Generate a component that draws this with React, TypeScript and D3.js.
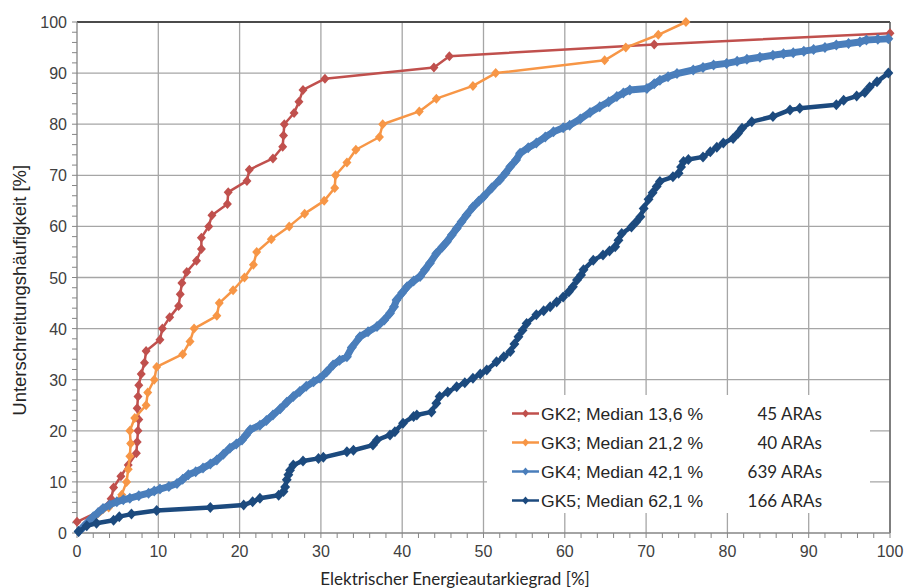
import React, { useEffect, useRef } from "react";
import * as d3 from "d3";

// Werte: [Energieautarkiegrad %, Unterschreitungshäufigkeit %]
const gk2: [number, number][] = [
  [0, 2.2], [2.9, 4.4], [4.2, 6.7], [4.5, 8.9], [5.4, 11.1], [6.3, 13.3], [7.3, 15.6], [7.4, 17.8],
  [7.5, 20], [7.6, 22.2], [7.4, 24.4], [7.5, 26.7], [7.6, 28.9], [7.9, 31.1], [8.3, 33.3], [8.5, 35.6],
  [10.2, 37.8], [10.5, 40], [11.4, 42.2], [12.5, 44.4], [12.7, 46.7], [12.9, 48.9], [13.5, 51.1],
  [14.7, 53.3], [15.3, 55.6], [15.3, 57.8], [16.2, 60], [16.6, 62.2], [18.5, 64.4], [18.6, 66.7],
  [20.9, 68.9], [21.2, 71.1], [24.1, 73.3], [25.3, 75.6], [25.4, 77.8], [25.5, 80], [26.7, 82.2],
  [27.3, 84.4], [27.8, 86.7], [30.5, 88.9], [43.9, 91.1], [45.8, 93.3], [71, 95.6], [100, 97.8],
];

const gk3: [number, number][] = [
  [2.0, 2.5], [3.9, 5], [5.5, 7.5], [6.1, 10], [6.3, 12.5], [6.5, 15], [6.6, 17.5], [6.5, 20],
  [7.1, 22.5], [8.5, 25], [8.7, 27.5], [9.5, 30], [9.8, 32.5], [13, 35], [13.9, 37.5], [14.4, 40],
  [17.2, 42.5], [17.5, 45], [19.2, 47.5], [20.6, 50], [21.7, 52.5], [22.1, 55], [23.9, 57.5],
  [26.1, 60], [28, 62.5], [30.4, 65], [31.7, 67.5], [31.8, 70], [33.2, 72.5], [34.3, 75],
  [37.2, 77.5], [37.6, 80], [42.1, 82.5], [44.2, 85], [48.7, 87.5], [51.5, 90], [64.9, 92.5],
  [67.5, 95], [71.5, 97.5], [74.9, 100],
];

const gk4: [number, number][] = [
  [0.2, 0.3], [0.8, 1.2], [1.4, 2.2], [2.0, 3.2], [2.6, 4.0], [3.2, 4.8], [4.0, 5.5], [4.9, 6.1],
  [5.7, 6.5], [6.5, 6.8], [7.6, 7.3], [8.8, 7.8], [9.5, 8.2], [10.2, 8.6], [11.3, 9.1], [12.3, 9.7],
  [13.0, 10.5], [13.7, 11.4], [14.6, 12.0], [15.5, 12.7], [16.4, 13.5], [17.2, 14.3], [18.0, 15.4],
  [18.8, 16.6], [19.6, 17.4], [20.3, 18.2], [20.8, 19.2], [21.3, 20.2], [22.5, 21.1], [23.3, 22.0],
  [24.1, 23.1], [25.0, 24.3], [25.8, 25.6], [26.6, 26.7], [27.4, 27.7], [28.2, 28.7], [29.1, 29.6],
  [29.9, 30.3], [30.7, 31.5], [31.5, 32.9], [32.3, 33.8], [33.2, 34.5], [33.8, 36.3], [34.8, 38.4],
  [35.8, 39.4], [36.9, 40.4], [37.8, 41.7], [38.5, 43.0], [39.0, 44.3], [39.3, 45.6], [40.0, 47.0],
  [40.6, 48.2], [41.4, 49.3], [42.2, 50.2], [42.8, 51.5], [43.4, 52.8], [44.2, 54.7], [44.9, 55.9],
  [45.5, 57.0], [46.1, 58.3], [46.7, 59.6], [47.3, 60.9], [47.9, 62.2], [48.7, 63.8], [49.4, 64.9],
  [50.0, 65.8], [51.0, 67.5], [52.0, 69.1], [52.7, 70.4], [53.3, 71.7], [54.0, 73.0], [54.5, 74.3],
  [55.5, 75.4], [56.5, 76.3], [57.6, 77.5], [58.6, 78.5], [59.8, 79.3], [60.6, 79.8], [61.9, 81.0],
  [63.1, 82.3], [64.3, 83.4], [65.4, 84.4], [66.4, 85.4], [67.2, 86.1], [68.0, 86.7], [70.1, 87.0],
  [71.0, 87.9], [71.7, 88.6], [72.7, 89.3], [73.8, 89.9], [75.8, 90.6], [77.0, 91.1], [78.3, 91.6],
  [79.9, 91.9], [81.2, 92.3], [82.4, 92.7], [84.0, 93.1], [85.6, 93.5], [86.9, 93.8], [88.1, 94.0],
  [89.4, 94.3], [90.6, 94.6], [92.0, 95.0], [93.4, 95.5], [94.9, 95.8], [96.3, 96.1], [97.1, 96.5],
  [98.5, 96.6], [99.8, 96.7],
];

const gk5: [number, number][] = [
  [0.2, 0.3], [1.2, 1.4], [2.4, 1.9], [4.5, 2.5], [5.2, 3.2], [6.7, 3.7], [9.8, 4.4], [16.4, 5.0],
  [20.5, 5.5], [21.6, 6.1], [22.5, 6.8], [24.8, 7.4], [25.4, 8.1], [25.6, 9.0], [25.8, 10.4],
  [26.0, 11.4], [26.2, 12.3], [26.6, 13.3], [27.8, 14.1], [29.7, 14.6], [30.3, 14.8], [33.2, 15.9],
  [34.0, 16.2], [36.4, 17.2], [36.9, 18.2], [38.5, 19.2], [39.1, 19.8], [40.1, 21.5], [41.4, 22.8],
  [41.8, 23.1], [43.6, 23.7], [44.2, 25.4], [44.6, 26.7], [45.6, 27.6], [46.7, 28.6], [47.7, 29.4],
  [48.7, 30.3], [49.6, 31.1], [50.4, 31.9], [51.6, 33.5], [52.5, 34.5], [53.3, 35.5], [53.8, 37.0],
  [54.3, 38.4], [54.8, 39.7], [55.3, 41.0], [56.5, 42.7], [57.4, 43.5], [58.2, 44.3], [59.0, 45.2],
  [59.8, 46.2], [60.5, 47.2], [61.0, 48.2], [61.5, 49.5], [62.0, 50.5], [62.3, 51.5], [63.5, 53.4],
  [64.7, 54.4], [65.5, 55.2], [66.2, 56.0], [66.6, 57.3], [67.0, 58.6], [68.2, 59.9], [68.8, 60.9],
  [69.3, 61.9], [69.7, 63.5], [70.3, 65.3], [70.8, 66.6], [71.3, 67.8], [71.7, 68.8], [73.3, 69.7],
  [74.0, 70.4], [74.3, 71.6], [74.6, 72.7], [75.2, 73.1], [77.0, 73.6], [77.9, 74.6], [78.7, 75.5],
  [79.5, 76.3], [80.7, 77.2], [81.3, 78.2], [81.8, 79.2], [83.0, 80.5], [85.6, 81.5], [87.7, 82.8],
  [88.9, 83.1], [93.4, 83.8], [94.3, 84.7], [95.9, 85.5], [96.9, 86.2], [97.5, 87.3], [98.4, 88.3],
  [99.8, 90.0],
];

const seriesNames = ["GK2; Median 13,6 %", "GK3; Median 21,2 %", "GK4; Median 42,1 %", "GK5; Median 62,1 %"];
const seriesCounts = ["45 ARAs", "40 ARAs", "639 ARAs", "166 ARAs"];
const colors = ["#c0504d", "#f79646", "#4a7ebb", "#1c4a7e"];
const xTicks = [0, 10, 20, 30, 40, 50, 60, 70, 80, 90, 100];
const yTicks = [0, 10, 20, 30, 40, 50, 60, 70, 80, 90, 100];

const W = 904, H = 588;
const margin = { top: 22, right: 14, bottom: 55, left: 77 };

export default function App() {
  const ref = useRef<SVGSVGElement>(null);

  useEffect(() => {
    const svg = d3.select(ref.current);
    svg.selectAll("*").remove();

    const x = d3.scaleLinear().domain([0, 100]).range([margin.left, W - margin.right]);
    const y = d3.scaleLinear().domain([0, 100]).range([H - margin.bottom, margin.top]);
    const g = svg.append("g");

    // Gitter
    g.selectAll(".vg").data(xTicks.slice(1)).join("line")
      .attr("x1", d => x(d)).attr("x2", d => x(d))
      .attr("y1", y(0)).attr("y2", y(100))
      .attr("stroke", "#a6a6a6").attr("stroke-width", 1.3);
    g.selectAll(".hg").data(yTicks.slice(1)).join("line")
      .attr("x1", x(0)).attr("x2", x(100))
      .attr("y1", d => y(d)).attr("y2", d => y(d))
      .attr("stroke", "#a6a6a6").attr("stroke-width", 1.3);
    g.append("line").attr("x1", x(0)).attr("x2", x(100)).attr("y1", y(100)).attr("y2", y(100))
      .attr("stroke", "#262626").attr("stroke-width", 1.5);
    g.append("line").attr("x1", x(100)).attr("x2", x(100)).attr("y1", y(0)).attr("y2", y(100))
      .attr("stroke", "#595959").attr("stroke-width", 1.3);

    // Achsen
    const minor = d3.range(0, 101, 2);
    const ax = g.append("g").attr("transform", `translate(0,${y(0)})`);
    ax.append("line").attr("x1", x(0)).attr("x2", x(100)).attr("stroke", "#868686").attr("stroke-width", 1.3);
    ax.selectAll("line.t").data(minor).join("line").attr("class", "t")
      .attr("x1", d => x(d)).attr("x2", d => x(d)).attr("y1", 0).attr("y2", 5)
      .attr("stroke", "#868686").attr("stroke-width", 1);
    ax.selectAll("text").data(xTicks).join("text")
      .attr("x", d => x(d)).attr("y", 24).attr("text-anchor", "middle")
      .attr("font-family", "Liberation Sans, Arial, sans-serif").attr("font-size", 16).attr("fill", "#404040")
      .text(d => d);

    const ay = g.append("g").attr("transform", `translate(${x(0)},0)`);
    ay.append("line").attr("y1", y(0)).attr("y2", y(100)).attr("stroke", "#868686").attr("stroke-width", 1.3);
    ay.selectAll("line.t").data(minor).join("line").attr("class", "t")
      .attr("y1", d => y(d)).attr("y2", d => y(d)).attr("x1", -5).attr("x2", 0)
      .attr("stroke", "#868686").attr("stroke-width", 1);
    ay.selectAll("text").data(yTicks).join("text")
      .attr("x", -10).attr("y", d => y(d) + 6).attr("text-anchor", "end")
      .attr("font-family", "Liberation Sans, Arial, sans-serif").attr("font-size", 16).attr("fill", "#404040")
      .text(d => d);

    // Achsentitel
    svg.append("text").attr("x", x(46.5)).attr("y", 585).attr("text-anchor", "middle")
      .attr("font-family", "Lato, sans-serif").attr("font-size", 17).attr("fill", "#262626")
      .text("Elektrischer Energieautarkiegrad [%]");
    svg.append("text").attr("transform", `translate(26,${y(47.5)}) rotate(-90)`).attr("text-anchor", "middle")
      .attr("font-family", "Liberation Sans, Arial, sans-serif").attr("font-size", 18.5).attr("fill", "#262626")
      .text("Unterschreitungshäufigkeit [%]");

    // Kurven
    const all = [gk2, gk3, gk4, gk5];
    const widths = [2.5, 2.5, 7, 4.5];
    const sizes = [5, 5, 5.5, 5.5];
    const line = d3.line<[number, number]>().x(d => x(d[0])).y(d => y(d[1]));
    all.forEach((data, i) => {
      const s = g.append("g");
      const r = sizes[i];
      const diamond = `M0,${-r}L${r * 0.9},0L0,${r}L${-r * 0.9},0Z`;
      s.append("path").datum(data).attr("d", line)
        .attr("fill", "none").attr("stroke", colors[i]).attr("stroke-width", widths[i])
        .attr("stroke-linejoin", "round");
      s.selectAll("path.m").data(data).join("path").attr("class", "m")
        .attr("d", diamond).attr("transform", d => `translate(${x(d[0])},${y(d[1])})`)
        .attr("fill", colors[i]);
    });

    // Legende
    const lg = svg.append("g");
    lg.append("rect").attr("x", 487).attr("y", 395).attr("width", 383).attr("height", 118).attr("fill", "#fff");
    seriesNames.forEach((name, i) => {
      const cy = 413.5 + i * 29;
      lg.append("line").attr("x1", 512).attr("x2", 539).attr("y1", cy).attr("y2", cy)
        .attr("stroke", colors[i]).attr("stroke-width", 2.5);
      lg.append("path").attr("d", "M0,-4L3.5,0L0,4L-3.5,0Z").attr("transform", `translate(525.5,${cy})`)
        .attr("fill", colors[i]);
      lg.append("text").attr("x", 541).attr("y", cy + 6).attr("textLength", 162).attr("lengthAdjust", "spacingAndGlyphs")
        .attr("font-family", "Liberation Sans, Arial, sans-serif").attr("font-size", 16).attr("fill", "#262626")
        .text(name);
      lg.append("text").attr("x", 822).attr("y", cy + 6).attr("text-anchor", "end")
        .attr("font-family", "Lato, sans-serif").attr("font-size", 17).attr("fill", "#262626")
        .text(seriesCounts[i]);
    });
  }, []);

  return (
    <svg ref={ref} width={W} height={H} style={{ position: "absolute", left: 0, top: 0, background: "#fff" }} />
  );
}
